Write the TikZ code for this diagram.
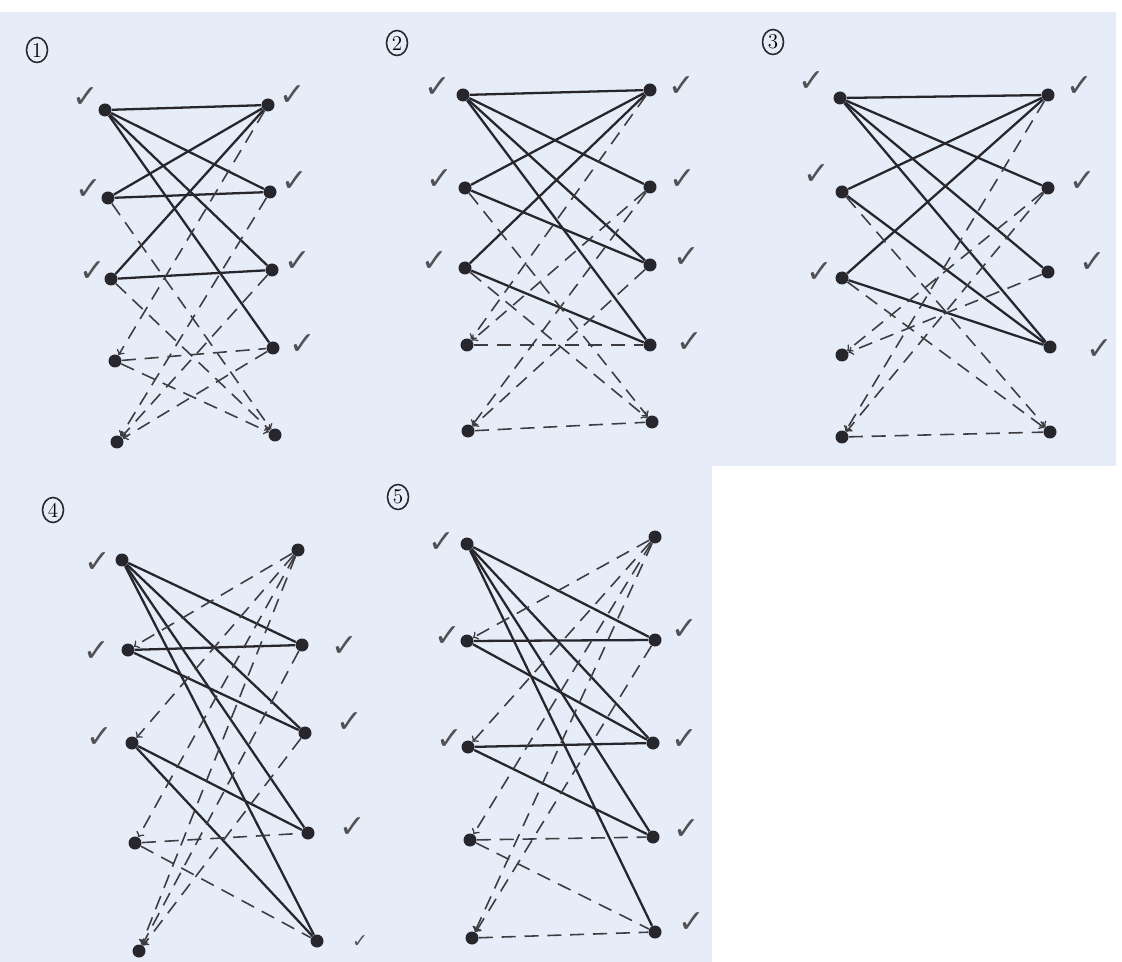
\documentclass[tikz,border=0pt]{standalone}
\usepackage{fontspec}
\usepackage{tikz}
\usetikzlibrary{shapes.geometric}
\newfontfamily\tickfont{DejaVu Sans}
\definecolor{paper}{RGB}{231,237,248}
\definecolor{ink}{RGB}{38,38,44}

\begin{document}
\begin{tikzpicture}[x=0.02cm, y=-0.02cm,
        dot/.style={circle, fill=ink, inner sep=0pt, minimum size=0.26cm},
        tick/.style={font=\tickfont\fontsize{18}{18}\selectfont, text=ink!80},
        num/.style={ellipse, draw=ink, line width=0.9pt, inner sep=0pt, minimum width=0.42cm, minimum height=0.5cm, font=\large},
        solidline/.style={draw=ink, line width=1.3pt},
        dashline/.style={draw=ink!90, line width=0.9pt, dash pattern=on 8pt off 5pt},
        dasharrow/.style={dashline, ->}]
            \useasboundingbox (0,0) rectangle (1122,962);
            \fill[paper] (0,12) -- (1116,12) -- (1116,466) -- (712,466) -- (712,962) -- (0,962) -- cycle;

            \node[num] (n1) at (37,50) {1};
            \node[dot] (p1a1) at (105,110) {};
            \node[dot] (p1a2) at (108,198) {};
            \node[dot] (p1a3) at (111,279) {};
            \node[dot] (p1a4) at (115,361) {};
            \node[dot] (p1a5) at (117,442) {};
            \node[dot] (p1b1) at (268,105) {};
            \node[dot] (p1b2) at (270,192) {};
            \node[dot] (p1b3) at (272,270) {};
            \node[dot] (p1b4) at (273,348) {};
            \node[dot] (p1b5) at (275,435) {};
            \node[tick] (p1ta1) at (86,98) {✓};
            \node[tick] (p1ta2) at (89,190) {✓};
            \node[tick] (p1ta3) at (93,272) {✓};
            \node[tick] (p1tb1) at (293,96) {✓};
            \node[tick] (p1tb2) at (295,182) {✓};
            \node[tick] (p1tb3) at (298,262) {✓};
            \node[tick] (p1tb4) at (303,345) {✓};
            \draw[solidline] (p1a1) -- (p1b1);
            \draw[solidline] (p1a1) -- (p1b2);
            \draw[solidline] (p1a1) -- (p1b3);
            \draw[solidline] (p1a1) -- (p1b4);
            \draw[solidline] (p1a2) -- (p1b1);
            \draw[solidline] (p1a2) -- (p1b2);
            \draw[solidline] (p1a3) -- (p1b1);
            \draw[solidline] (p1a3) -- (p1b3);
            \draw[dashline] (p1a4) -- (p1b4);
            \draw[dasharrow] (p1b1) -- (p1a4);
            \draw[dasharrow] (p1b2) -- (p1a5);
            \draw[dasharrow] (p1b3) -- (p1a5);
            \draw[dasharrow] (p1b4) -- (p1a5);
            \draw[dasharrow] (p1a2) -- (p1b5);
            \draw[dasharrow] (p1a3) -- (p1b5);
            \draw[dasharrow] (p1a4) -- (p1b5);

            \node[num] (n2) at (397,43) {2};
            \node[dot] (p2a1) at (463,95) {};
            \node[dot] (p2a2) at (465,188) {};
            \node[dot] (p2a3) at (465,268) {};
            \node[dot] (p2a4) at (467,345) {};
            \node[dot] (p2a5) at (468,431) {};
            \node[dot] (p2b1) at (650,90) {};
            \node[dot] (p2b2) at (650,187) {};
            \node[dot] (p2b3) at (650,265) {};
            \node[dot] (p2b4) at (650,345) {};
            \node[dot] (p2b5) at (652,422) {};
            \node[tick] (p2ta1) at (438,88) {✓};
            \node[tick] (p2ta2) at (440,180) {✓};
            \node[tick] (p2ta3) at (435,262) {✓};
            \node[tick] (p2tb1) at (682,87) {✓};
            \node[tick] (p2tb2) at (683,180) {✓};
            \node[tick] (p2tb3) at (687,258) {✓};
            \node[tick] (p2tb4) at (690,343) {✓};
            \draw[solidline] (p2a1) -- (p2b1);
            \draw[solidline] (p2a1) -- (p2b2);
            \draw[solidline] (p2a1) -- (p2b3);
            \draw[solidline] (p2a1) -- (p2b4);
            \draw[solidline] (p2a2) -- (p2b1);
            \draw[solidline] (p2a2) -- (p2b3);
            \draw[solidline] (p2a3) -- (p2b1);
            \draw[solidline] (p2a3) -- (p2b4);
            \draw[dashline] (p2a4) -- (p2b4);
            \draw[dashline] (p2a5) -- (p2b5);
            \draw[dasharrow] (p2b1) -- (p2a4);
            \draw[dasharrow] (p2b2) -- (p2a4);
            \draw[dasharrow] (p2b2) -- (p2a5);
            \draw[dasharrow] (p2b3) -- (p2a5);
            \draw[dasharrow] (p2a2) -- (p2b5);
            \draw[dasharrow] (p2a3) -- (p2b5);

            \node[num] (n3) at (773,42) {3};
            \node[dot] (p3a1) at (840,98) {};
            \node[dot] (p3a2) at (842,192) {};
            \node[dot] (p3a3) at (842,278) {};
            \node[dot] (p3a4) at (842,355) {};
            \node[dot] (p3a5) at (842,437) {};
            \node[dot] (p3b1) at (1048,95) {};
            \node[dot] (p3b2) at (1048,188) {};
            \node[dot] (p3b3) at (1048,272) {};
            \node[dot] (p3b4) at (1050,347) {};
            \node[dot] (p3b5) at (1050,432) {};
            \node[tick] (p3ta1) at (812,82) {✓};
            \node[tick] (p3ta2) at (817,175) {✓};
            \node[tick] (p3ta3) at (820,273) {✓};
            \node[tick] (p3tb1) at (1080,87) {✓};
            \node[tick] (p3tb2) at (1083,182) {✓};
            \node[tick] (p3tb3) at (1093,263) {✓};
            \node[tick] (p3tb4) at (1100,350) {✓};
            \draw[solidline] (p3a1) -- (p3b1);
            \draw[solidline] (p3a1) -- (p3b2);
            \draw[solidline] (p3a1) -- (p3b3);
            \draw[solidline] (p3a1) -- (p3b4);
            \draw[solidline] (p3a2) -- (p3b1);
            \draw[solidline] (p3a2) -- (p3b4);
            \draw[solidline] (p3a3) -- (p3b1);
            \draw[solidline] (p3a3) -- (p3b4);
            \draw[dashline] (p3a5) -- (p3b5);
            \draw[dasharrow] (p3b1) -- (p3a5);
            \draw[dasharrow] (p3b2) -- (p3a5);
            \draw[dasharrow] (p3b2) -- (p3a4);
            \draw[dasharrow] (p3b3) -- (p3a4);
            \draw[dasharrow] (p3a2) -- (p3b5);
            \draw[dasharrow] (p3a3) -- (p3b5);

            \node[num] (n4) at (53,510) {4};
            \node[dot] (p4a1) at (122,560) {};
            \node[dot] (p4a2) at (128,650) {};
            \node[dot] (p4a3) at (132,743) {};
            \node[dot] (p4a4) at (135,843) {};
            \node[dot] (p4a5) at (139,951) {};
            \node[dot] (p4b1) at (298,550) {};
            \node[dot] (p4b2) at (302,645) {};
            \node[dot] (p4b3) at (305,733) {};
            \node[dot] (p4b4) at (308,833) {};
            \node[dot] (p4b5) at (317,941) {};
            \node[tick] (p4ta1) at (98,563) {✓};
            \node[tick] (p4ta2) at (97,652) {✓};
            \node[tick] (p4ta3) at (100,738) {✓};
            \node[tick] (p4tb2) at (345,647) {✓};
            \node[tick] (p4tb3) at (350,723) {✓};
            \node[tick] (p4tb4) at (353,828) {✓};
            \node[tick, scale=0.6] (p4tb5) at (360,942) {✓};
            \draw[solidline] (p4a1) -- (p4b2);
            \draw[solidline] (p4a1) -- (p4b3);
            \draw[solidline] (p4a1) -- (p4b4);
            \draw[solidline] (p4a1) -- (p4b5);
            \draw[solidline] (p4a2) -- (p4b2);
            \draw[solidline] (p4a2) -- (p4b3);
            \draw[solidline] (p4a3) -- (p4b4);
            \draw[solidline] (p4a3) -- (p4b5);
            \draw[dashline] (p4a4) -- (p4b4);
            \draw[dashline] (p4a4) -- (p4b5);
            \draw[dasharrow] (p4b1) -- (p4a2);
            \draw[dasharrow] (p4b1) -- (p4a3);
            \draw[dasharrow] (p4b1) -- (p4a4);
            \draw[dasharrow] (p4b1) -- (p4a5);
            \draw[dasharrow] (p4b2) -- (p4a5);
            \draw[dasharrow] (p4b3) -- (p4a5);

            \node[num] (n5) at (398,497) {5};
            \node[dot] (p5a1) at (467,544) {};
            \node[dot] (p5a2) at (467,641) {};
            \node[dot] (p5a3) at (468,747) {};
            \node[dot] (p5a4) at (470,840) {};
            \node[dot] (p5a5) at (472,938) {};
            \node[dot] (p5b1) at (655,537) {};
            \node[dot] (p5b2) at (655,640) {};
            \node[dot] (p5b3) at (653,743) {};
            \node[dot] (p5b4) at (653,837) {};
            \node[dot] (p5b5) at (655,932) {};
            \node[tick] (p5ta1) at (442,543) {✓};
            \node[tick] (p5ta2) at (448,637) {✓};
            \node[tick] (p5ta3) at (450,740) {✓};
            \node[tick] (p5tb2) at (685,630) {✓};
            \node[tick] (p5tb3) at (685,740) {✓};
            \node[tick] (p5tb4) at (687,830) {✓};
            \node[tick] (p5tb5) at (692,923) {✓};
            \draw[solidline] (p5a1) -- (p5b2);
            \draw[solidline] (p5a1) -- (p5b3);
            \draw[solidline] (p5a1) -- (p5b4);
            \draw[solidline] (p5a1) -- (p5b5);
            \draw[solidline] (p5a2) -- (p5b2);
            \draw[solidline] (p5a2) -- (p5b3);
            \draw[solidline] (p5a3) -- (p5b3);
            \draw[solidline] (p5a3) -- (p5b4);
            \draw[dashline] (p5a4) -- (p5b4);
            \draw[dashline] (p5a4) -- (p5b5);
            \draw[dashline] (p5a5) -- (p5b5);
            \draw[dasharrow] (p5b1) -- (p5a2);
            \draw[dasharrow] (p5b1) -- (p5a3);
            \draw[dasharrow] (p5b1) -- (p5a4);
            \draw[dasharrow] (p5b1) -- (p5a5);
            \draw[dasharrow] (p5b2) -- (p5a5);
        \end{tikzpicture}
\end{document}
